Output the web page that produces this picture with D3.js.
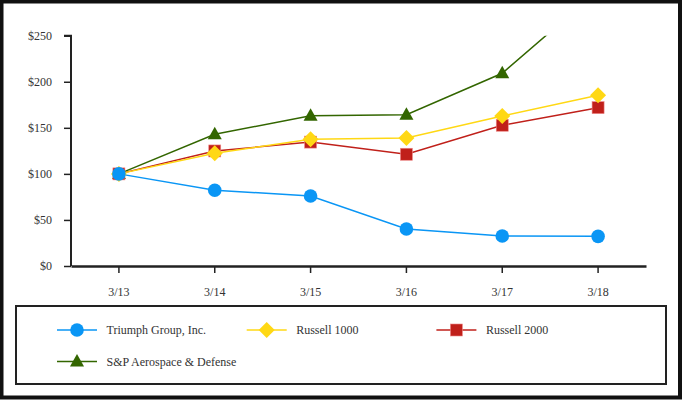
<!DOCTYPE html>
<html><head><meta charset="utf-8">
<script src="https://cdn.jsdelivr.net/npm/d3@7/dist/d3.min.js"></script>
<style>body{margin:0;background:#fff}svg{display:block}</style>
</head><body>
<script>
const categories = ["3/13","3/14","3/15","3/16","3/17","3/18"];
const triumph   = [100, 82.2, 76.0, 40.2, 32.6, 32.2];
const russell1000 = [100, 122.3, 137.6, 139.0, 162.9, 185.3];
const russell2000 = [100, 124.9, 134.5, 121.3, 152.8, 171.9];
const spAero    = [100, 143.0, 163.2, 164.3, 209.2, 299];
const yTicks = [0, 50, 100, 150, 200, 250];
const seriesNames = ["Triumph Group, Inc.", "Russell 1000", "Russell 2000", "S&P Aerospace & Defense"];

const W = 682, H = 400;
const svg = d3.select("body").append("svg").attr("width", W).attr("height", H);
svg.append("rect").attr("x",1.5).attr("y",1.5).attr("width",W-3.5).attr("height",H-4)
  .attr("fill","#fff").attr("stroke","#111").attr("stroke-width",4);

const x = d3.scaleBand().domain(categories).range([71, 646]);
const cx = d => x(d) + x.bandwidth()/2;
const y = d3.scaleLinear().domain([0, 250]).range([266, 35.7]);

const font = "'Liberation Serif','Times New Roman',serif";

// Y axis
const yAxis = svg.append("g").attr("transform","translate(71,0)")
  .call(d3.axisLeft(y).tickValues(yTicks).tickSize(7).tickPadding(12).tickFormat(d => "$" + d));
yAxis.select(".domain").attr("stroke","#222").attr("stroke-width",2).attr("d","M-7,35.7H0V266");
yAxis.selectAll(".tick line").attr("stroke","#222").attr("stroke-width",1.5);
yAxis.selectAll("text").attr("font-family",font).attr("font-size",12).attr("fill","#333");

// X axis
const xAxis = svg.append("g").attr("transform","translate(0,266)")
  .call(d3.axisBottom(x).tickSize(7).tickPadding(14).tickSizeOuter(0));
xAxis.select(".domain").attr("stroke","#222").attr("stroke-width",2.5);
xAxis.selectAll(".tick line").attr("stroke","#222").attr("stroke-width",1.5);
xAxis.selectAll("text").attr("font-family",font).attr("font-size",12).attr("fill","#333");

svg.append("clipPath").attr("id","plot").append("rect")
  .attr("x",60).attr("y",35.7).attr("width",600).attr("height",240);

const series = [
  {name: seriesNames[3], values: spAero, color: "#336600", shape: "triangle"},
  {name: seriesNames[2], values: russell2000, color: "#C0201A", shape: "square"},
  {name: seriesNames[1], values: russell1000, color: "#FFD814", shape: "diamond"},
  {name: seriesNames[0], values: triumph, color: "#0A96F5", shape: "circle"},
];

function marker(g, shape, color, px, py) {
  if (shape === "circle") g.append("circle").attr("cx",px).attr("cy",py).attr("r",6.8).attr("fill",color);
  else if (shape === "square") g.append("rect").attr("x",px-6).attr("y",py-6).attr("width",12).attr("height",12)
      .attr("fill",color).attr("stroke","#e88").attr("stroke-width",0.6);
  else if (shape === "diamond") g.append("path").attr("d",`M${px},${py-8}L${px+8},${py}L${px},${py+8}L${px-8},${py}Z`).attr("fill",color);
  else if (shape === "triangle") g.append("path").attr("d",`M${px},${py-7.5}L${px+7},${py+5}L${px-7},${py+5}Z`).attr("fill",color);
}

const plot = svg.append("g").attr("clip-path","url(#plot)");
const line = d3.line().x((d,i) => cx(categories[i])).y(d => y(d));
series.forEach(s => {
  plot.append("path").datum(s.values).attr("d", line).attr("fill","none")
    .attr("stroke", s.color).attr("stroke-width", 1.5);
});
series.forEach(s => {
  s.values.forEach((v,i) => { if (v <= 250) marker(plot, s.shape, s.color, cx(categories[i]), y(v)); });
});

// Legend
svg.append("rect").attr("x",16).attr("y",306).attr("width",650).attr("height",78)
  .attr("fill","none").attr("stroke","#222").attr("stroke-width",2);
const legendItems = [
  {s: series[3], lx: 77, ly: 330},
  {s: series[2], lx: 266.7, ly: 330},
  {s: series[1], lx: 456.4, ly: 330},
  {s: series[0], lx: 77, ly: 361.5},
];
legendItems.forEach(it => {
  const g = svg.append("g");
  g.append("line").attr("x1",it.lx-20).attr("x2",it.lx+20).attr("y1",it.ly).attr("y2",it.ly)
    .attr("stroke",it.s.color).attr("stroke-width",1.5);
  marker(g, it.s.shape, it.s.color, it.lx, it.ly);
  g.append("text").attr("x",it.lx+29.5).attr("y",it.ly).attr("dy","0.35em")
    .attr("font-family",font).attr("font-size",12).attr("fill","#333").text(it.s.name);
});
</script>
</body></html>
